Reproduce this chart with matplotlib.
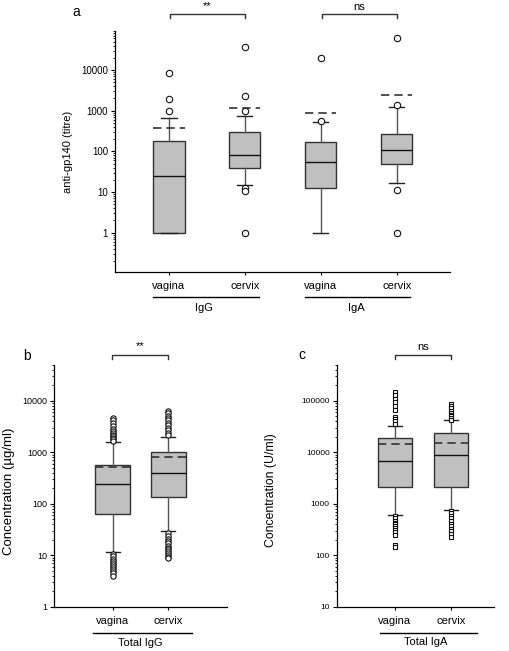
import matplotlib
matplotlib.use('Agg')
import matplotlib.pyplot as plt
from matplotlib import ticker
import numpy as np

plt.rcParams['font.family'] = ['Liberation Sans', 'DejaVu Sans']

W, H = 510, 651

# panel a: anti-gp140 titres, IgG and IgA in vagina / cervix
a_names = ['vagina', 'cervix', 'vagina', 'cervix']
a_groups = ['IgG', 'IgA']
a_med = [25, 80, 55, 106]
a_q1 = [1, 40, 12.3, 50]
a_q3 = [183, 295, 166, 264]
a_lo = [1, 15, 1, 16.5]
a_hi = [645, 730, 517, 1220]
a_mean = [383, 1190, 875, 2480]
a_fliers = [[8300, 1950, 960],
            [36000, 2340, 1000, 12.3, 10.8, 1],
            [20000, 555],
            [60000, 1350, 11.4, 1]]
a_sig = ['**', 'ns']

# panel b: total IgG (ug/ml)
b_names = ['vagina', 'cervix']
b_med = [244, 399]
b_q1 = [63, 136]
b_q3 = [565, 1040]
b_lo = [11.5, 29]
b_hi = [1620, 2030]
b_mean = [522, 828]
b_fliers = [[4700, 4200, 3700, 3300, 2900, 2600, 2400, 2200, 2050, 1900, 1800, 1700,
             10.5, 9.5, 8.6, 7.8, 7.1, 6.5, 6.0, 5.5, 5.0, 4.5, 3.9],
            [6400, 5800, 5200, 4700, 4200, 3800, 3400, 3000, 2700, 2400, 2200,
             27, 24, 21, 19, 17, 15, 14, 13, 12, 11, 10, 9.3, 8.7]]

# panel c: total IgA (U/ml)
c_names = ['vagina', 'cervix']
c_med = [6900, 8900]
c_q1 = [2120, 2120]
c_q3 = [19200, 23500]
c_lo = [620, 770]
c_hi = [33300, 41700]
c_mean = [14400, 15500]
c_fliers = [[150000, 128000, 110000, 94000, 80000, 68000, 48000, 44000, 40000, 36000,
             580, 520, 470, 430, 400, 370, 340, 310, 280, 250, 155, 145],
            [88000, 80000, 72000, 65000, 59000, 54000, 50000, 46000, 43000,
             740, 650, 580, 520, 460, 410, 370, 330, 290, 260, 230]]


def px_axes(fig, left, top, right, bottom):
    # axes box given in pixels of the 510x651 picture
    return fig.add_axes([left / W, 1 - bottom / H, (right - left) / W, (bottom - top) / H])


def make_stats(med, q1, q3, lo, hi, mean, fliers):
    return [dict(med=m, q1=a, q3=b, whislo=l, whishi=h, mean=mn, fliers=np.array(f, dtype=float))
            for m, a, b, l, h, mn, f in zip(med, q1, q3, lo, hi, mean, fliers)]


def draw_boxes(ax, stats, pos, width, capw, marker, msize):
    ax.bxp(stats, positions=pos, widths=width, capwidths=capw, patch_artist=True,
           showmeans=True, meanline=True,
           boxprops=dict(facecolor='#c0c0c0', edgecolor='#333333', linewidth=1.0),
           medianprops=dict(color='#111111', linewidth=1.0),
           meanprops=dict(color='#333333', linestyle=(0, (5, 3)), linewidth=1.2),
           whiskerprops=dict(color='#555555', linewidth=1.0),
           capprops=dict(color='#222222', linewidth=1.0),
           flierprops=dict(marker=marker, markerfacecolor='white', markeredgecolor='#111111',
                           markersize=msize, markeredgewidth=0.8))


def style_axes(ax, ticks, tick_fs, names, pos):
    ax.set_yscale('log')
    for s in ['top', 'right']:
        ax.spines[s].set_visible(False)
    for s in ['left', 'bottom']:
        ax.spines[s].set_linewidth(0.9)
    ax.set_yticks(ticks)
    ax.set_yticklabels([str(t) for t in ticks], fontsize=tick_fs)
    ax.yaxis.set_minor_locator(ticker.LogLocator(base=10, subs=np.arange(2, 10), numticks=30))
    ax.yaxis.set_minor_formatter(ticker.NullFormatter())
    ax.tick_params(axis='y', which='major', length=3, width=0.8, pad=2)
    ax.tick_params(axis='y', which='minor', length=1.6, width=0.6)
    ax.set_xticks(pos)
    ax.set_xticklabels(names, fontsize=8)
    ax.tick_params(axis='x', length=2.5, width=0.8, pad=4)


def bracket(ax, x1, x2, y, drop, text, ty):
    tr = ax.get_xaxis_transform()
    ax.plot([x1, x1, x2, x2], [y - drop, y, y, y - drop], color='#333333', lw=1,
            transform=tr, clip_on=False)
    ax.text((x1 + x2) / 2, ty, text, transform=tr, ha='center', va='center', fontsize=8)


def group_line(ax, x1, x2, yline, label, xlab, ylab):
    tr = ax.get_xaxis_transform()
    ax.plot([x1, x2], [yline, yline], color='black', lw=1, transform=tr, clip_on=False)
    ax.text(xlab, ylab, label, transform=tr, ha='center', va='center', fontsize=8)


fig = plt.figure(figsize=(W / 100, H / 100), dpi=100)

# ---- panel a
ax_a = px_axes(fig, 115, 31, 450, 271.7)
pos_a = [1, 2, 3, 4]
draw_boxes(ax_a, make_stats(a_med, a_q1, a_q3, a_lo, a_hi, a_mean, a_fliers),
           pos_a, 0.41, 0.2, 'o', 4.6)
style_axes(ax_a, [1, 10, 100, 1000, 10000], 7, a_names, pos_a)
ax_a.set_ylim(0.11, 91000)
ax_a.set_xlim(0.29, 4.70)
bracket(ax_a, 1.01, 2.0, 1.069, 0.016, a_sig[0], 1.105)
bracket(ax_a, 3.01, 4.0, 1.069, 0.016, a_sig[1], 1.10)
group_line(ax_a, 0.79, 2.19, -0.104, a_groups[0], 1.46, -0.152)
group_line(ax_a, 2.79, 4.18, -0.104, a_groups[1], 3.47, -0.152)
fig.text(68.3 / W, 1 - 151.4 / H, 'anti-gp140 (titre)', rotation=90, ha='center', va='center', fontsize=8)
fig.text(76 / W, 1 - 12 / H, 'a', ha='center', va='center', fontsize=10)

# ---- panel b
ax_b = px_axes(fig, 54.3, 365, 226.7, 606.7)
pos_b = [1, 2]
draw_boxes(ax_b, make_stats(b_med, b_q1, b_q3, b_lo, b_hi, b_mean, b_fliers),
           pos_b, 0.62, 0.25, 'o', 3.8)
style_axes(ax_b, [1, 10, 100, 1000, 10000], 6.5, b_names, pos_b)
ax_b.set_ylim(1, 50000)
ax_b.set_xlim(-0.05, 3.05)
bracket(ax_b, 0.98, 1.99, 1.043, 0.018, '**', 1.078)
group_line(ax_b, 0.65, 2.42, -0.110, 'Total IgG', 1.49, -0.151)
fig.text(9 / W, 1 - 491 / H, 'Concentration (\u00b5g/ml)', rotation=90, ha='center', va='center', fontsize=9.5)
fig.text(26.7 / W, 1 - 356 / H, 'b', ha='center', va='center', fontsize=10)

# ---- panel c
ax_c = px_axes(fig, 336.7, 365, 494.3, 606.7)
pos_c = [1, 2]
draw_boxes(ax_c, make_stats(c_med, c_q1, c_q3, c_lo, c_hi, c_mean, c_fliers),
           pos_c, 0.61, 0.26, 's', 3.5)
style_axes(ax_c, [10, 100, 1000, 10000, 100000], 6, c_names, pos_c)
ax_c.set_ylim(10, 500000)
ax_c.set_xlim(-0.04, 2.77)
bracket(ax_c, 1.0, 2.0, 1.043, 0.018, 'ns', 1.074)
group_line(ax_c, 0.73, 2.46, -0.108, 'Total IgA', 1.55, -0.145)
fig.text(271.2 / W, 1 - 490 / H, 'Concentration (U/ml)', rotation=90, ha='center', va='center', fontsize=8.8)
fig.text(301.7 / W, 1 - 355 / H, 'c', ha='center', va='center', fontsize=10)

fig.savefig('out.png', dpi=100)
